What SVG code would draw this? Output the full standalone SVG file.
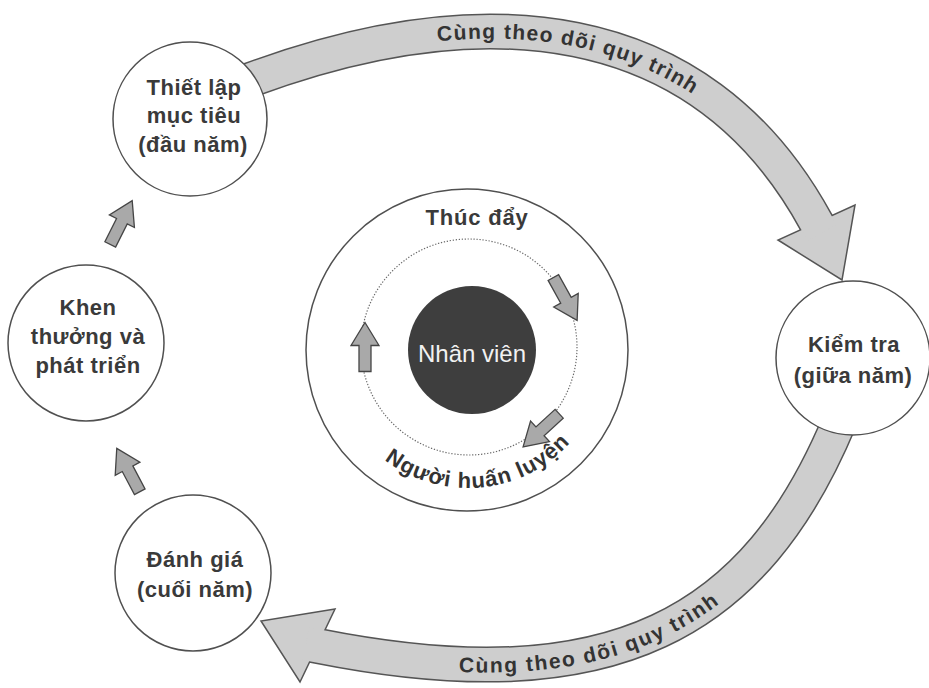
<svg xmlns="http://www.w3.org/2000/svg" xmlns:xlink="http://www.w3.org/1999/xlink" width="929" height="688" viewBox="0 0 929 688">
<style>
.bg{fill:#ffffff}
.node{fill:#ffffff;stroke:#505050;stroke-width:1.5}
.lbl{font-family:"Liberation Sans",Arial,sans-serif;font-weight:bold;font-size:22px;fill:#3a3a3a;text-anchor:middle;letter-spacing:0.5px}
.bandEdge{fill:none;stroke:#555555;stroke-width:36}
.bandFill{fill:none;stroke:#cecece;stroke-width:33}
.head{fill:#cecece;stroke:#555555;stroke-width:1.5;stroke-linejoin:miter}
.bandTxt{font-family:"Liberation Sans",Arial,sans-serif;font-weight:bold;font-size:21px;fill:#333333;letter-spacing:1.5px}
.small{fill:#a9a9a9;stroke:#454545;stroke-width:1.3;stroke-linejoin:miter}
.ring{fill:none;stroke:#505050;stroke-width:1.5}
.dots{fill:none;stroke:#6a6a6a;stroke-width:1.2;stroke-dasharray:1.3 1.7}
.core{fill:#3e3e3e}
.coreTxt{font-family:"Liberation Sans",Arial,sans-serif;font-size:24px;fill:#f2f2f2;text-anchor:middle}
.ringTxt{font-family:"Liberation Sans",Arial,sans-serif;font-weight:bold;font-size:22px;fill:#333333;letter-spacing:1px}
</style>
<defs>
<path id="blk" d="M0,-25 L14,-2 L6,-2 L6,24 L-6,24 L-6,-2 L-14,-2 Z"/>
<path id="topBand" d="M236 85 L250 80 C480 -5 700 10 816 222 L822 232.6"/>
<path id="botBand" d="M846 406 L840 420 C756 622 615 705 318 646 L306 643.7"/>
<path id="topTxtPath" d="M250 80 C480 -5 700 10 816 222"/>
<path id="botTxtPath" d="M318 646 C615 705 756 622 840 420"/>
<path id="ringTxtPath" d="M330 350 A138 138 0 0 0 606 350"/>
</defs>
<rect class="bg" x="0" y="0" width="929" height="688"/>

<g id="connectors">
  <use xlink:href="#topBand" class="bandEdge"/>
  <polygon class="head" points="778,240 842,280 855,205"/>
  <use xlink:href="#topBand" class="bandFill"/>
  <text class="bandTxt" dy="7"><textPath xlink:href="#topTxtPath" startOffset="51%" text-anchor="middle">Cùng theo dõi quy trình</textPath></text>

  <use xlink:href="#botBand" class="bandEdge"/>
  <polygon class="head" points="335,609 261,621 300,682"/>
  <use xlink:href="#botBand" class="bandFill"/>
  <text class="bandTxt" dy="8"><textPath xlink:href="#botTxtPath" startOffset="44%" text-anchor="middle">Cùng theo dõi quy trình</textPath></text>

  <use xlink:href="#blk" class="small" transform="translate(121,223) rotate(26.6)"/>
  <use xlink:href="#blk" class="small" transform="translate(128.5,470.5) rotate(-28)"/>
</g>

<g id="node-thiet-lap">
  <circle class="node" cx="190" cy="119" r="77"/>
  <text class="lbl" x="194" y="95">Thiết lập</text>
  <text class="lbl" x="194" y="123">mục tiêu</text>
  <text class="lbl" x="193" y="152">(đầu năm)</text>
</g>

<g id="node-khen-thuong">
  <circle class="node" cx="86" cy="343" r="78"/>
  <text class="lbl" x="88" y="315">Khen</text>
  <text class="lbl" x="88" y="344">thưởng và</text>
  <text class="lbl" x="88" y="373">phát triển</text>
</g>

<g id="node-danh-gia">
  <circle class="node" cx="193" cy="573" r="78"/>
  <text class="lbl" x="195" y="567">Đánh giá</text>
  <text class="lbl" x="195" y="597">(cuối năm)</text>
</g>

<g id="node-kiem-tra">
  <circle class="node" cx="853" cy="358" r="77"/>
  <text class="lbl" x="854" y="352">Kiểm tra</text>
  <text class="lbl" x="853" y="383">(giữa năm)</text>
</g>

<g id="node-nhan-vien">
  <circle class="ring" cx="467" cy="350" r="161"/>
  <circle class="dots" cx="469" cy="347" r="108"/>
  <circle class="core" cx="472" cy="350" r="64"/>
  <text class="coreTxt" x="472" y="362">Nhân viên</text>
  <text class="lbl" x="477" y="225" style="letter-spacing:0.8px">Thúc đẩy</text>
  <text class="ringTxt"><textPath xlink:href="#ringTxtPath" startOffset="53%" text-anchor="middle">Người huấn luyện</textPath></text>
  <use xlink:href="#blk" class="small" transform="translate(565,298.5) rotate(151)"/>
  <use xlink:href="#blk" class="small" transform="translate(541.5,430) rotate(227.4)"/>
  <use xlink:href="#blk" class="small" transform="translate(365,347.5)"/>
</g>
</svg>
